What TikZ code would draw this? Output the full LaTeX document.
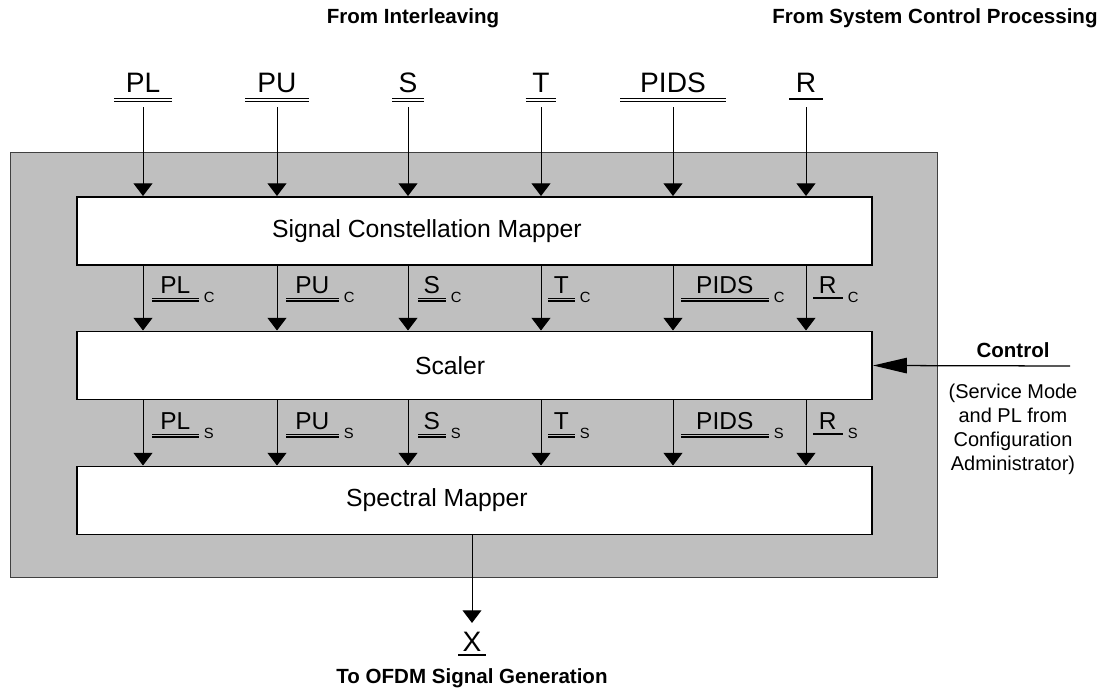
\documentclass[tikz,border=0pt]{standalone}
\usepackage{fontspec}
\setmainfont{Liberation Sans}
\usetikzlibrary{positioning, arrows.meta}
\tikzset{
    >={Triangle[length=9pt, width=13.5pt]}, % wide filled arrow heads
    panel/.style={draw=black!75, fill=black!25, line width=0.7pt}, % grey frame round the three blocks
    block/.style={draw, fill=white, line width=1.4pt, minimum width=19.875cm, minimum height=1.7cm},
    blocktxt/.style={font=\fontsize{17.6}{21}\selectfont},
    flow/.style={->, line width=0.7pt},
    toplbl/.style={font=\fontsize{20}{24}\selectfont, inner sep=0pt, text depth=0pt, anchor=base},
    midlbl/.style={font=\fontsize{17.4}{21}\selectfont, inner sep=0pt, text depth=0pt, anchor=base west},
    sub/.style={font=\fontsize{10.5}{12}\selectfont, inner sep=0pt, text depth=0pt, anchor=base west, xshift=3.5pt, yshift=-6.4pt},
    heading/.style={font=\bfseries\fontsize{14.6}{17}\selectfont},
    note/.style={font=\fontsize{14.2}{17}\selectfont, align=center},
    dbl/.style={double=white, double distance=0.8pt, line width=1pt}, % double underline on white
    dblg/.style={double=black!25, double distance=0.8pt, line width=1pt}, % double underline on grey
    sgl/.style={line width=1.3pt},
}
\begin{document}
\begin{tikzpicture}[x=0.025cm, y=-0.025cm]
    \useasboundingbox (0,0) rectangle (1106,694);
    \draw[panel] (10,152) rectangle (937,577);

    % blocks
    \node[block, label={[blocktxt, xshift=-1.19cm]center:Signal Constellation Mapper}] (scm) at (474.5,231) {};
    \node[block, label={[blocktxt, xshift=-0.61cm]center:Scaler}] (scl) at (474.5,365.5) {};
    \node[block, label={[blocktxt, xshift=-0.94cm]center:Spectral Mapper}] (spm) at (474.5,500.5) {};

    % headings
    \node[heading] (intl) at (413,18) {From Interleaving};
    \node[heading] (scp) at (935,18) {From System Control Processing};

    % inputs
    \node[toplbl, minimum width=1.425cm] (PL) at (143,93) {PL};
    \node[toplbl, minimum width=1.575cm] (PU) at (277,93) {PU};
    \node[toplbl, minimum width=0.775cm] (S) at (408,93) {S};
    \node[toplbl, minimum width=0.75cm] (T) at (541,93) {T};
    \node[toplbl, minimum width=2.625cm] (PIDS) at (673,93) {PIDS};
    \node[toplbl, minimum width=0.825cm] (R) at (806,93) {R};
    \draw[dbl] ([yshift=-5pt]PL.base west) -- ([yshift=-5pt]PL.base east);
    \draw[dbl] ([yshift=-5pt]PU.base west) -- ([yshift=-5pt]PU.base east);
    \draw[dbl] ([yshift=-5pt]S.base west) -- ([yshift=-5pt]S.base east);
    \draw[dbl] ([yshift=-5pt]T.base west) -- ([yshift=-5pt]T.base east);
    \draw[dbl] ([yshift=-5pt]PIDS.base west) -- ([yshift=-5pt]PIDS.base east);
    \draw[sgl] ([yshift=-4pt]R.base west) -- ([yshift=-4pt]R.base east);

    \draw[flow] ([yshift=-10pt]PL.base) -- (PL |- scm.north);
    \draw[flow] ([yshift=-10pt]PU.base) -- (PU |- scm.north);
    \draw[flow] ([yshift=-10pt]S.base) -- (S |- scm.north);
    \draw[flow] ([yshift=-10pt]T.base) -- (T |- scm.north);
    \draw[flow] ([yshift=-10pt]PIDS.base) -- (PIDS |- scm.north);
    \draw[flow] ([yshift=-10pt]R.base) -- (R |- scm.north);

    % mapper to scaler
    \draw[flow] (PL |- scm.south) -- (PL |- scl.north);
    \draw[flow] (PU |- scm.south) -- (PU |- scl.north);
    \draw[flow] (S |- scm.south) -- (S |- scl.north);
    \draw[flow] (T |- scm.south) -- (T |- scl.north);
    \draw[flow] (PIDS |- scm.south) -- (PIDS |- scl.north);
    \draw[flow] (R |- scm.south) -- (R |- scl.north);
    \node[midlbl, minimum width=1.15cm, label={[sub]base east:C}] (PLc) at (152,294) {PL};
    \node[midlbl, minimum width=1.3cm, label={[sub]base east:C}] (PUc) at (286,294) {PU};
    \node[midlbl, minimum width=0.675cm, label={[sub]base east:C}] (Sc) at (418,294) {S};
    \node[midlbl, minimum width=0.65cm, label={[sub]base east:C}] (Tc) at (548,294) {T};
    \node[midlbl, minimum width=2.175cm, label={[sub]base east:C}] (PIDSc) at (681,294) {PIDS};
    \node[midlbl, minimum width=0.725cm, label={[sub]base east:C}] (Rc) at (813,294) {R};
    \draw[dblg] ([yshift=-4pt]PLc.base west) -- ([yshift=-4pt]PLc.base east);
    \draw[dblg] ([yshift=-4pt]PUc.base west) -- ([yshift=-4pt]PUc.base east);
    \draw[dblg] ([yshift=-4pt]Sc.base west) -- ([yshift=-4pt]Sc.base east);
    \draw[dblg] ([yshift=-4pt]Tc.base west) -- ([yshift=-4pt]Tc.base east);
    \draw[dblg] ([yshift=-4pt]PIDSc.base west) -- ([yshift=-4pt]PIDSc.base east);
    \draw[sgl] ([yshift=-3pt]Rc.base west) -- ([yshift=-3pt]Rc.base east);

    % scaler to spectral mapper
    \draw[flow] (PL |- scl.south) -- (PL |- spm.north);
    \draw[flow] (PU |- scl.south) -- (PU |- spm.north);
    \draw[flow] (S |- scl.south) -- (S |- spm.north);
    \draw[flow] (T |- scl.south) -- (T |- spm.north);
    \draw[flow] (PIDS |- scl.south) -- (PIDS |- spm.north);
    \draw[flow] (R |- scl.south) -- (R |- spm.north);
    \node[midlbl, minimum width=1.15cm, label={[sub]base east:S}] (PLs) at (152,430) {PL};
    \node[midlbl, minimum width=1.3cm, label={[sub]base east:S}] (PUs) at (286,430) {PU};
    \node[midlbl, minimum width=0.675cm, label={[sub]base east:S}] (Ss) at (418,430) {S};
    \node[midlbl, minimum width=0.65cm, label={[sub]base east:S}] (Ts) at (548,430) {T};
    \node[midlbl, minimum width=2.175cm, label={[sub]base east:S}] (PIDSs) at (681,430) {PIDS};
    \node[midlbl, minimum width=0.725cm, label={[sub]base east:S}] (Rs) at (813,430) {R};
    \draw[dblg] ([yshift=-4pt]PLs.base west) -- ([yshift=-4pt]PLs.base east);
    \draw[dblg] ([yshift=-4pt]PUs.base west) -- ([yshift=-4pt]PUs.base east);
    \draw[dblg] ([yshift=-4pt]Ss.base west) -- ([yshift=-4pt]Ss.base east);
    \draw[dblg] ([yshift=-4pt]Ts.base west) -- ([yshift=-4pt]Ts.base east);
    \draw[dblg] ([yshift=-4pt]PIDSs.base west) -- ([yshift=-4pt]PIDSs.base east);
    \draw[sgl] ([yshift=-3pt]Rs.base west) -- ([yshift=-3pt]Rs.base east);

    % output
    \node[toplbl, minimum width=0.675cm] (X) at (472,651) {X};
    \draw[sgl] ([yshift=-3pt]X.base west) -- ([yshift=-3pt]X.base east);
    \draw[flow] (X |- spm.south) -- ([yshift=6pt]X.north);
    \node[heading] (ofdm) at (472,678) {To OFDM Signal Generation};

    % control input
    \node[heading] (ctl) at (1013,350) {Control};
    \coordinate (ctlin) at (1070,366);
    \draw[line width=0.9pt, -{Triangle[length=24pt, width=11pt]}] (ctlin) -- (scl.east);
    \node[note] (ctlnote) at (1013,429) {(Service Mode\\and PL from\\Configuration\\Administrator)};
\end{tikzpicture}
\end{document}
